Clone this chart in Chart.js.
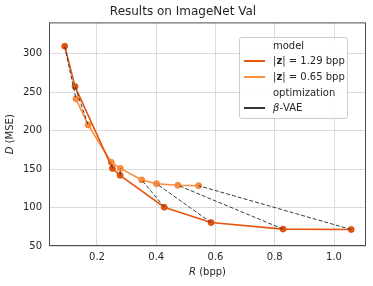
<!DOCTYPE html>
<html>
<head>
<meta charset="utf-8">
<script src="https://cdn.jsdelivr.net/npm/chart.js@4.4.1/dist/chart.umd.min.js"></script>
<style>
  body { margin: 0; background: #fff; font-family: "DejaVu Sans", sans-serif; }
  #wrap { position: relative; width: 373px; height: 286px; }
  .legend { position: absolute; left: 239px; top: 37px; width: 107px; height: 80px;
    border: 1px solid #cccccc; border-radius: 3px; background: rgba(255,255,255,0.9);
    font-size: 10px; color: #262626; }
  .row { position: absolute; left: 0; width: 100%; height: 14px; line-height: 14px; white-space: nowrap; }
  .sw { position: absolute; left: 4px; top: 6px; width: 21px; height: 2px; }
  .tx { position: absolute; left: 33px; }
</style>
</head>
<body>
<div id="wrap">
  <canvas id="rdChart" width="373" height="286"></canvas>
  <div class="legend">
    <div class="row" style="top:1px"><span class="tx">model</span></div>
    <div class="row" style="top:16px"><span class="sw" style="background:#e6550d"></span><span class="tx">|<b>z</b>| = 1.29 bpp</span></div>
    <div class="row" style="top:32px"><span class="sw" style="background:#fd8d3c"></span><span class="tx">|<b>z</b>| = 0.65 bpp</span></div>
    <div class="row" style="top:48px"><span class="tx">optimization</span></div>
    <div class="row" style="top:63px"><span class="sw" style="background:#333"></span><span class="tx"><i>β</i>-VAE</span></div>
  </div>
</div>
<script>
// valeurs
const rateHigh = [0.091, 0.126, 0.252, 0.278, 0.427, 0.585, 0.828, 1.058];
const distHigh = [310, 257.5, 151, 142, 100.5, 80.5, 72, 71.5];
const rateLow = [0.129, 0.170, 0.248, 0.279, 0.351, 0.401, 0.473, 0.543];
const distLow = [241.5, 207.5, 159, 151, 136, 131, 129, 128.5];
const xTicks = [0.2, 0.4, 0.6, 0.8, 1.0];
const yTicks = [50, 100, 150, 200, 250, 300];

const darkOrange = '#e6550d';
const lightOrange = '#fd8d3c';

const toPoints = (xs, ys) => xs.map((x, i) => ({ x: x, y: ys[i] }));

// lignes pointillées beta-VAE : relie chaque point des deux modèles
const pairSets = rateHigh.map((x, i) => ({
    data: [{ x: x, y: distHigh[i] }, { x: rateLow[i], y: distLow[i] }],
    showLine: true,
    borderColor: '#3a3a3a',
    borderWidth: 1,
    borderDash: [4, 2],
    pointRadius: 0,
    order: 1
}));

// cadre autour de la zone du graphique + titres d'axes (lettre en italique)
const frame = {
    id: 'frame',
    afterDraw(chart) {
        const a = chart.chartArea, c = chart.ctx;
        c.save();
        c.strokeStyle = '#4d4d4d';
        c.lineWidth = 1;
        c.strokeRect(a.left + 0.5, a.top + 0.5, a.right - a.left - 1, a.bottom - a.top - 1);

        c.fillStyle = '#262626';
        c.textBaseline = 'middle';
        c.textAlign = 'left';
        const it = 'italic 10px "DejaVu Sans"', up = '10px "DejaVu Sans"';
        const drawLabel = (sym, rest) => {
            c.font = it; const w1 = c.measureText(sym).width;
            c.font = up; const w2 = c.measureText(rest).width;
            const x0 = -(w1 + w2) / 2;
            c.font = it; c.fillText(sym, x0, 0);
            c.font = up; c.fillText(rest, x0 + w1, 0);
        };
        c.translate((a.left + a.right) / 2, 272);
        drawLabel('R', ' (bpp)');
        c.setTransform(1, 0, 0, 1, 0, 0);
        c.translate(10, (a.top + a.bottom) / 2);
        c.rotate(-Math.PI / 2);
        drawLabel('D', ' (MSE)');
        c.restore();
    }
};

Chart.defaults.font.family = '"DejaVu Sans", sans-serif';
Chart.defaults.color = '#262626';

const ctx = document.getElementById('rdChart').getContext('2d');
const rdChart = new Chart(ctx, {
    type: 'scatter',
    data: {
        datasets: [
            {
                data: toPoints(rateHigh, distHigh),
                showLine: true,
                borderColor: darkOrange,
                backgroundColor: darkOrange,
                borderWidth: 1.6,
                pointRadius: 3,
                pointBorderColor: '#d84a06',
                pointBorderWidth: 0.8,
                order: 2
            },
            {
                data: toPoints(rateLow, distLow),
                showLine: true,
                borderColor: lightOrange,
                backgroundColor: lightOrange,
                borderWidth: 1.6,
                pointRadius: 3,
                pointBorderColor: '#f07a2a',
                pointBorderWidth: 0.8,
                order: 3
            },
            ...pairSets
        ]
    },
    options: {
        responsive: false,
        animation: false,
        layout: { padding: { left: 0, right: 7, top: 0, bottom: 0 } },
        plugins: {
            legend: { display: false },
            tooltip: { enabled: false },
            title: {
                display: true,
                text: 'Results on ImageNet Val',
                font: { size: 12, weight: 'normal' },
                color: '#262626',
                padding: { top: 5, bottom: 3 }
            }
        },
        scales: {
            x: {
                type: 'linear',
                min: 0.038,
                max: 1.108,
                afterBuildTicks: s => { s.ticks = xTicks.map(v => ({ value: v })); },
                afterFit: s => { s.height = 40; },
                ticks: { font: { size: 10 }, padding: 5, callback: v => v.toFixed(1) },
                grid: { color: '#dcdcdc', lineWidth: 1, drawTicks: false },
                border: { display: false }
            },
            y: {
                type: 'linear',
                min: 50,
                max: 341,
                afterBuildTicks: s => { s.ticks = yTicks.map(v => ({ value: v })); },
                afterFit: s => { s.width = 49; },
                ticks: { font: { size: 10 }, padding: 7 },
                grid: { color: '#dcdcdc', lineWidth: 1, drawTicks: false },
                border: { display: false }
            }
        }
    },
    plugins: [frame]
});
</script>
</body>
</html>
